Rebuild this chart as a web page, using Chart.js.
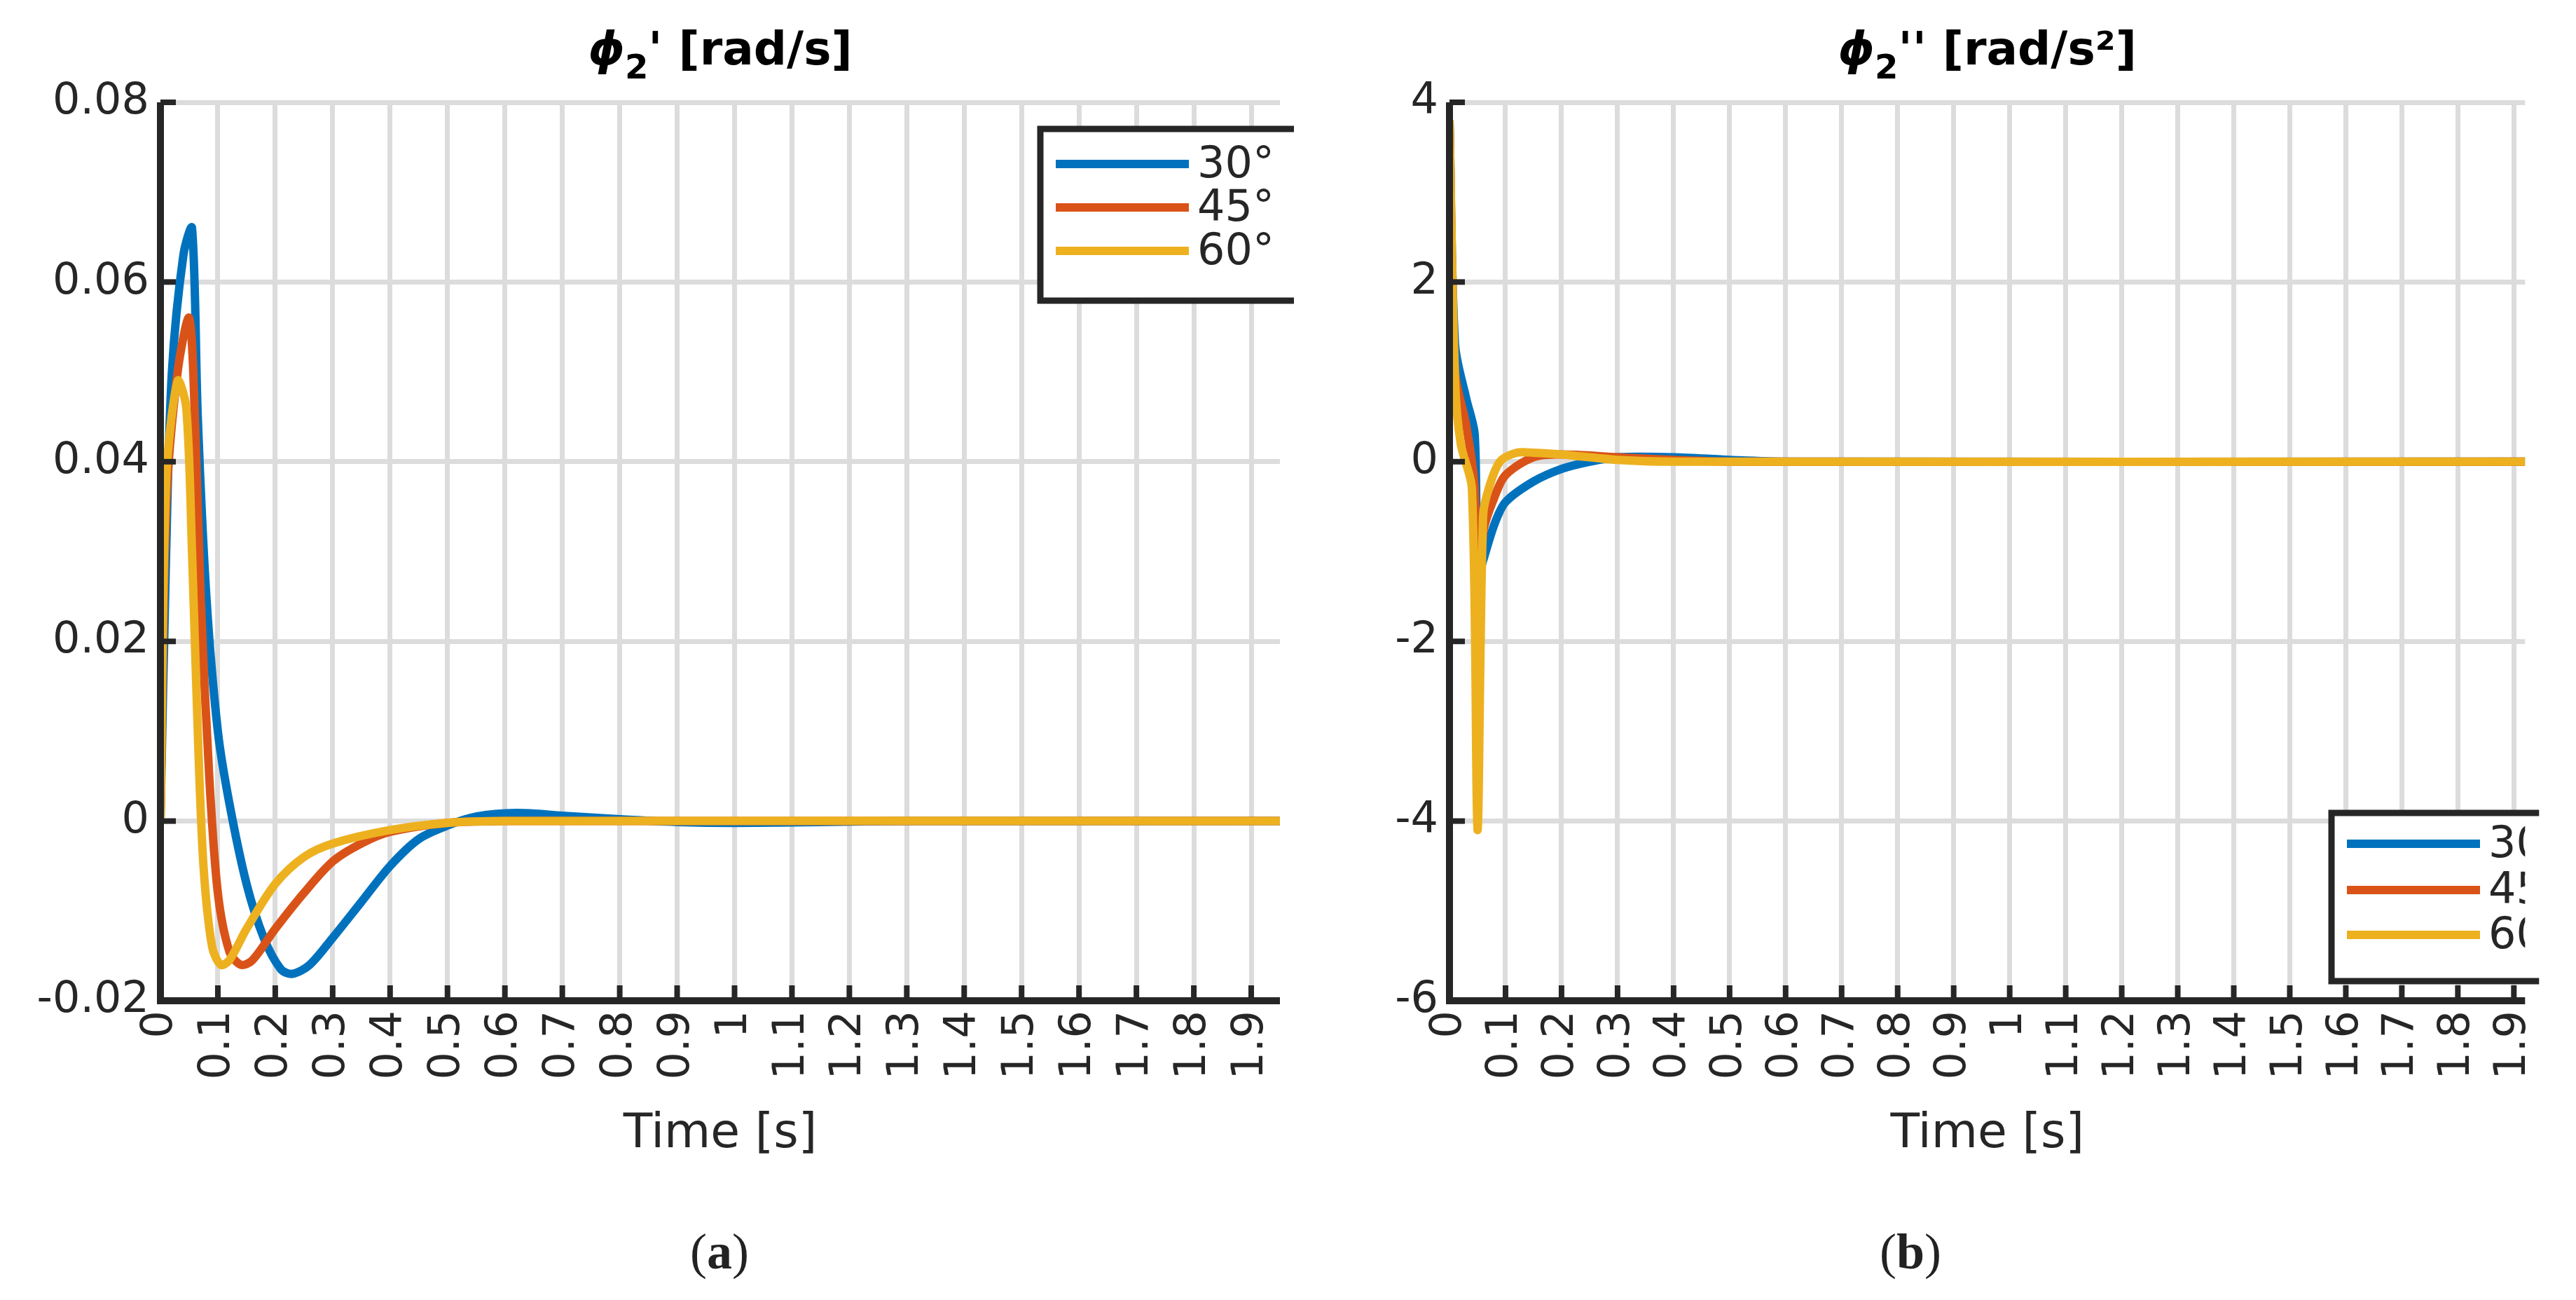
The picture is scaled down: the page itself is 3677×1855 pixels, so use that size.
<!DOCTYPE html>
<html><head><meta charset="utf-8">
<script src="https://cdn.jsdelivr.net/npm/chart.js@4"></script>
<style>
body{margin:0;background:#fff;width:3677px;height:1855px;position:relative;overflow:hidden}
.c{position:absolute;top:0}
.cap{position:absolute;top:1745px;font-family:"Liberation Serif",serif;font-size:72px;color:#222}
</style></head><body>
<div class="c" style="left:0;width:1900px;height:1700px"><canvas id="a"></canvas></div>
<div class="c" style="left:1840px;width:1837px;height:1700px"><canvas id="b"></canvas></div>
<div class="cap" style="left:985px">(<b>a</b>)</div>
<div class="cap" style="left:2683px">(<b>b</b>)</div>
<script>
const labels=['30°','45°','60°'];
const colors=['#0072BD','#D95319','#EDB120'];
const velTitle="' [rad/s]";
const accTitle="'' [rad/s²]";
const vel30=[[0,0],[0.01,0.03],[0.02,0.05],[0.04,0.063],[0.055,0.066],[0.065,0.045],[0.08,0.025],[0.1,0.01],[0.12,0.002],[0.15,-0.007],[0.18,-0.013],[0.21,-0.0165],[0.23,-0.017],[0.26,-0.016],[0.3,-0.013],[0.35,-0.009],[0.4,-0.005],[0.45,-0.002],[0.5,-0.0005],[0.55,0.0005],[0.62,0.0009],[0.7,0.0006],[0.8,0.0002],[0.9,-0.0001],[1.0,-0.0002],[1.15,-0.0001],[1.3,0],[1.95,0]];
const vel45=[[0,0],[0.01,0.035],[0.03,0.05],[0.05,0.056],[0.06,0.045],[0.07,0.025],[0.085,0.005],[0.1,-0.008],[0.12,-0.0145],[0.14,-0.016],[0.16,-0.0155],[0.2,-0.012],[0.25,-0.008],[0.3,-0.0045],[0.35,-0.0025],[0.4,-0.0012],[0.5,-0.0002],[0.6,0],[0.8,0],[1.95,0]];
const vel60=[[0,0],[0.01,0.038],[0.03,0.049],[0.045,0.046],[0.055,0.03],[0.065,0.01],[0.075,-0.005],[0.09,-0.014],[0.105,-0.016],[0.12,-0.0155],[0.15,-0.012],[0.2,-0.007],[0.25,-0.004],[0.3,-0.0025],[0.4,-0.001],[0.5,-0.0002],[0.6,0],[1.95,0]];
const acc30=[[0,3.8],[0.01,1.3],[0.03,0.7],[0.045,0.3],[0.05,-1.3],[0.06,-1.1],[0.08,-0.7],[0.1,-0.45],[0.15,-0.22],[0.2,-0.08],[0.25,0],[0.3,0.05],[0.4,0.05],[0.5,0.02],[0.6,0],[1.92,0]];
const acc45=[[0,3.8],[0.01,1.0],[0.03,0.4],[0.045,-0.3],[0.05,-2.5],[0.06,-0.8],[0.08,-0.4],[0.1,-0.15],[0.15,0.05],[0.2,0.08],[0.3,0.05],[0.4,0.02],[0.5,0],[1.92,0]];
const acc60=[[0,3.8],[0.01,0.9],[0.02,0.2],[0.04,-0.3],[0.05,-4.1],[0.06,-0.6],[0.07,-0.3],[0.09,0],[0.12,0.1],[0.15,0.1],[0.2,0.08],[0.3,0.02],[0.4,0],[1.92,0]];
const xTicks=[0,0.1,0.2,0.3,0.4,0.5,0.6,0.7,0.8,0.9,1,1.1,1.2,1.3,1.4,1.5,1.6,1.7,1.8,1.9];
const velTicks=[-0.02,0,0.02,0.04,0.06,0.08];
const accTicks=[-6,-4,-2,0,2,4];
const dark='#262626',grid='#dcdcdc',F='"DejaVu Sans"';

function make(id,series,xmax,yT,title,padL,padR,leg){
  const ds=series.map((s,i)=>({label:labels[i],order:3-i,data:s.map(p=>({x:p[0],y:p[1]})),borderColor:colors[i],borderWidth:12,pointRadius:0,tension:0.3,fill:false}));
  const deco={id:'deco',
    afterDatasetsDraw(c){
      const g=c.ctx,a=c.chartArea,x=c.scales.x,y=c.scales.y;
      g.save();g.strokeStyle=dark;g.lineWidth=8;
      xTicks.forEach(t=>{const px=x.getPixelForValue(t);g.beginPath();g.moveTo(px,a.bottom);g.lineTo(px,a.bottom-22);g.stroke();});
      yT.forEach(t=>{const py=y.getPixelForValue(t);g.beginPath();g.moveTo(a.left,py);g.lineTo(a.left+22,py);g.stroke();});
      g.beginPath();g.rect(a.left,a.top-20,a.right-a.left+20,a.bottom-a.top+40);g.clip();
      const L=leg;g.fillStyle='#fff';g.fillRect(L.x,L.y,L.w,L.h);
      g.lineWidth=9;g.strokeStyle=dark;g.strokeRect(L.x,L.y,L.w,L.h);
      g.restore();g.save();
      g.beginPath();g.rect(0,0,a.right,c.height);g.clip();
      g.font='62px '+F;g.textBaseline='middle';
      labels.forEach((l,i)=>{const yy=L.y+L.r[i];g.strokeStyle=colors[i];g.lineWidth=12;g.beginPath();g.moveTo(L.x+22,yy);g.lineTo(L.x+212,yy);g.stroke();g.fillStyle=dark;g.fillText(l,L.x+224,yy+3);});
      g.restore();
      g.save();g.strokeStyle=dark;g.lineWidth=10;g.beginPath();g.moveTo(a.left,a.top);g.lineTo(a.left,a.bottom);g.lineTo(a.right,a.bottom);g.stroke();
      const cx=(a.left+a.right)/2;g.fillStyle='#000';g.textBaseline='alphabetic';
      g.font='italic bold 66px '+F;const w1=g.measureText('ϕ').width;
      g.font='bold 48px '+F;const w2=g.measureText('2').width;
      g.font='bold 66px '+F;const w3=g.measureText(title).width;
      let sx=cx-(w1+w2+w3)/2;
      g.font='italic bold 66px '+F;g.fillText('ϕ',sx,92);
      g.font='bold 48px '+F;g.fillText('2',sx+w1,112);
      g.font='bold 66px '+F;g.fillText(title,sx+w1+w2,92);
      g.restore();
    }};
  new Chart(document.getElementById(id),{type:'line',data:{datasets:ds},plugins:[deco],
    options:{responsive:true,maintainAspectRatio:false,animation:false,
      layout:{padding:{left:0,right:padR,top:146,bottom:40}},
      plugins:{legend:{display:false},tooltip:{enabled:false}},
      scales:{
        x:{type:'linear',min:0,max:xmax,
          afterBuildTicks(s){s.ticks=xTicks.map(v=>({value:v}));},
          afterFit(s){s.height=232;},
          border:{display:false},
          grid:{color:grid,lineWidth:7,tickLength:0,drawTicks:false},
          ticks:{minRotation:90,maxRotation:90,padding:14,color:dark,font:{family:F,size:62},callback:v=>String(+v.toFixed(1))},
          title:{display:true,text:'Time [s]',color:dark,font:{family:F,size:68},padding:{top:0,bottom:0}}},
        y:{min:yT[0],max:yT[yT.length-1],
          afterBuildTicks(s){s.ticks=yT.map(v=>({value:v}));},
          afterFit(s){s.width=padL;},
          border:{display:false},
          grid:{color:grid,lineWidth:7,drawTicks:false},
          ticks:{padding:16,color:dark,font:{family:F,size:62},callback:v=>String(+v.toFixed(2))}}
      }}});
}
make('a',[vel30,vel45,vel60],1.95,velTicks,velTitle,229,73,{x:1485,y:184,w:380,h:245,r:[50,112,174]});
make('b',[acc30,acc45,acc60],1.92,accTicks,accTitle,229,28,{x:3328-1840,y:1160,w:360,h:240,r:[44,110,174]});
</script></body></html>
